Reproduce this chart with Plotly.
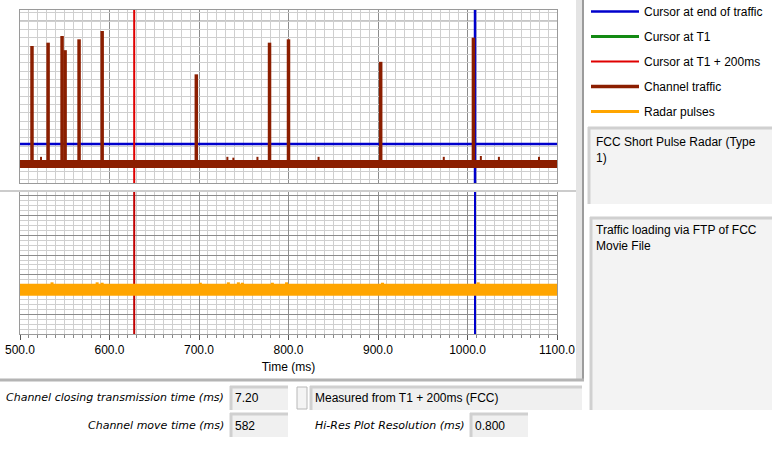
import plotly.graph_objects as go

# cursors (ms) and the horizontal level of the end-of-traffic cursor
t1 = 427.6
t1_plus_200 = 627.6
t_end = 1008.4
end_level = 4.25

# channel traffic: noise floor plus transmission bursts
traffic_floor = 1.84
burst_times = [513.4, 531.4, 547.0, 550.4, 566.0, 591.8, 697.0, 778.8, 800.0, 903.0, 1006.6]
burst_tops = [16.0, 16.4, 17.2, 15.5, 16.8, 17.8, 12.6, 16.4, 16.8, 14.1, 17.0]
noise_times = [523.5, 731.7, 738.4, 765.3, 833.6, 973.5, 1014.9, 1035.1, 1079.9]
noise_tops = [2.7, 2.7, 2.6, 2.7, 2.7, 2.7, 2.8, 2.7, 2.7]

# radar pulses (lower graph)
radar_floor = 2.24
radar_bump_times = [535.8, 586.2, 591.8, 701.5, 732.8, 744.0, 748.5, 782.0, 797.8, 905.0, 1012.0]
radar_bump_tops = [2.62, 2.62, 2.60, 2.60, 2.62, 2.62, 2.60, 2.60, 2.62, 2.60, 2.62]

x_range = [500, 1100]
top_range = [-0.44, 20.32]
bottom_range = [0, 7.2]

BLUE = "#0000cc"
GREEN = "#138a13"
RED = "#e00000"
BROWN = "#8b1e00"
ORANGE = "#ffa500"
FONT = "Liberation Sans"
IFONT = "DejaVu Sans"

W, H = 772, 449
PL, PR, PT, PB = 20, 557, 10, 334          # plot area in pixels
pw, ph = PR - PL, PB - PT


def px(x):
    return (x - PL) / pw


def py(y):
    return (PB - y) / ph


def spikes(times, tops, base):
    xs, ys = [], []
    for t, v in zip(times, tops):
        xs += [t, t, None]
        ys += [base, v, None]
    return xs, ys


fig = go.Figure()

# cursor at end of traffic (vertical on both graphs, horizontal on top)
fig.add_trace(go.Scatter(x=[t_end, t_end, None, x_range[0], x_range[1]],
                         y=[top_range[0], top_range[1], None, end_level, end_level],
                         mode="lines", line=dict(color=BLUE, width=2.5),
                         name="Cursor at end of traffic", legendgroup="a",
                         xaxis="x", yaxis="y"))
fig.add_trace(go.Scatter(x=[t_end, t_end], y=bottom_range, mode="lines",
                         line=dict(color=BLUE, width=2), showlegend=False,
                         legendgroup="a", xaxis="x2", yaxis="y2"))
# cursor at T1 (outside the shown window)
fig.add_trace(go.Scatter(x=[t1, t1], y=top_range, mode="lines",
                         line=dict(color=GREEN, width=3), name="Cursor at T1",
                         legendgroup="b", xaxis="x", yaxis="y"))
# cursor at T1 + 200ms
fig.add_trace(go.Scatter(x=[t1_plus_200, t1_plus_200], y=top_range, mode="lines",
                         line=dict(color=RED, width=2), name="Cursor at T1 + 200ms",
                         legendgroup="c", xaxis="x", yaxis="y"))
fig.add_trace(go.Scatter(x=[t1_plus_200, t1_plus_200], y=bottom_range, mode="lines",
                         line=dict(color="#c00000", width=2), showlegend=False,
                         legendgroup="c", xaxis="x2", yaxis="y2"))

# channel traffic
bx, by = spikes(burst_times, burst_tops, traffic_floor)
fig.add_trace(go.Scatter(x=bx, y=by, mode="lines", line=dict(color=BROWN, width=3.5),
                         name="Channel traffic", legendgroup="d",
                         xaxis="x", yaxis="y"))
fig.add_trace(go.Scatter(x=x_range, y=[traffic_floor, traffic_floor], mode="lines",
                         line=dict(color=BROWN, width=8), showlegend=False,
                         legendgroup="d", xaxis="x", yaxis="y"))
nx, ny = spikes(noise_times, noise_tops, traffic_floor)
fig.add_trace(go.Scatter(x=nx, y=ny, mode="lines", line=dict(color=BROWN, width=2),
                         showlegend=False, legendgroup="d", xaxis="x", yaxis="y"))

# radar pulses
rx, ry = spikes(radar_bump_times, radar_bump_tops, radar_floor)
fig.add_trace(go.Scatter(x=rx, y=ry, mode="lines", line=dict(color=ORANGE, width=3),
                         name="Radar pulses", legendgroup="e",
                         xaxis="x2", yaxis="y2"))
fig.add_trace(go.Scatter(x=x_range, y=[radar_floor, radar_floor], mode="lines",
                         line=dict(color=ORANGE, width=12), showlegend=False,
                         legendgroup="e", xaxis="x2", yaxis="y2"))

xgrid = dict(range=x_range, dtick=100, gridcolor="#8c8c8c", gridwidth=1,
             showline=True, linecolor="#9a9a9a", mirror=True, zeroline=False,
             minor=dict(dtick=10, showgrid=True, gridcolor="#cfcfcf"))

top_dom = [py(183), 1]
bot_dom = [0, py(192)]

fig.update_layout(
    width=W, height=H,
    margin=dict(l=PL, r=W - PR, t=PT, b=H - PB, autoexpand=False),
    paper_bgcolor="white", plot_bgcolor="white",
    font=dict(family=FONT, size=12, color="black"),
    xaxis=dict(xgrid, anchor="y", showticklabels=False),
    xaxis2=dict(xgrid, anchor="y2", matches="x", tickformat=".1f",
                ticks="outside", ticklen=5, tickcolor="#555555",
                tickfont=dict(size=12), ticklabeloverflow="allow",
                minor=dict(dtick=10, showgrid=True, gridcolor="#cfcfcf",
                           ticks="outside", ticklen=3, tickcolor="#888888"),
                title=dict(text="Time (ms)", font=dict(size=12), standoff=6)),
    yaxis=dict(domain=top_dom, range=top_range, dtick=1, tick0=0,
               gridcolor="#cfcfcf", showticklabels=False, zeroline=False,
               showline=True, linecolor="#9a9a9a", mirror=True),
    yaxis2=dict(domain=bot_dom, range=bottom_range, dtick=1, tick0=0,
                gridcolor="#8c8c8c", showticklabels=False, zeroline=False,
                showline=True, linecolor="#9a9a9a", mirror=True,
                minor=dict(dtick=0.25, showgrid=True, gridcolor="#cfcfcf")),
    showlegend=True,
    legend=dict(x=px(586), y=py(-3), xanchor="left", yanchor="top",
                xref="paper", yref="paper", traceorder="grouped",
                tracegroupgap=6, itemwidth=48, bgcolor="rgba(0,0,0,0)",
                font=dict(family=FONT, size=12)),
)

# darker horizontal rule near the top of the upper graph
fig.add_shape(type="line", xref="x", yref="y", x0=x_range[0], x1=x_range[1],
              y0=19, y1=19, line=dict(color="#8c8c8c", width=1), layer="below")


def rect(x0, y0, x1, y1, fill, line=None):
    fig.add_shape(type="rect", xref="paper", yref="paper",
                  x0=px(x0), x1=px(x1), y0=py(y0), y1=py(y1),
                  fillcolor=fill, line=dict(width=0) if line is None else line,
                  layer="above")


def hline(x0, x1, y, color, width=1):
    fig.add_shape(type="line", xref="paper", yref="paper",
                  x0=px(x0), x1=px(x1), y0=py(y), y1=py(y),
                  line=dict(color=color, width=width), layer="above")


def vline(x, y0, y1, color, width=1):
    fig.add_shape(type="line", xref="paper", yref="paper",
                  x0=px(x), x1=px(x), y0=py(y0), y1=py(y1),
                  line=dict(color=color, width=width), layer="above")


def text(x, y, s, anchor="left", italic=False):
    family, size = FONT, 12
    if italic:
        s = "<i>" + s + "</i>"
        family, size = IFONT, 11
    fig.add_annotation(xref="paper", yref="paper", x=px(x), y=py(y), text=s,
                       showarrow=False, xanchor=anchor, yanchor="middle",
                       align="left", font=dict(family=family, size=size, color="black"))


def inset_box(x0, y0, x1, y1, fill="#f3f3f3"):
    rect(x0, y0, x1, y1, fill)
    hline(x0, x1, y0 + 1, "#d0d0d0", 3)
    vline(x0 + 1, y0, y1, "#d0d0d0", 3)


# panel frames
hline(0, 578, 191, "#cccccc", 2)
rect(576, 0, 584, 381, "#e4e4e4")
vline(583, 0, 381, "#9c9c9c", 2)
hline(0, 584, 380, "#b4b4b4", 3)

# right-hand description boxes
inset_box(588, 127, 772, 204)
text(594, 150, "FCC Short Pulse Radar (Type<br>1)")
inset_box(590, 217, 772, 410)
text(594, 238, "Traffic loading via FTP of FCC<br>Movie File")

# controls under the graphs
text(226, 397, "Channel closing transmission time (ms)", "right", True)
inset_box(230, 386, 288, 410, "#f0f0f0")
text(233, 398, "7.20")
rect(297, 387, 307, 409, "#f4f4f4", dict(color="#b8b8b8", width=1))
inset_box(310, 386, 582, 410, "#f0f0f0")
text(313, 398, "Measured from T1 + 200ms (FCC)")

text(226, 425, "Channel move time (ms)", "right", True)
inset_box(230, 413, 288, 437, "#f0f0f0")
text(233, 426, "582")
text(467, 425, "Hi-Res Plot Resolution (ms)", "right", True)
inset_box(470, 413, 528, 437, "#f0f0f0")
text(473, 426, "0.800")

# the page has the browser's default 8px body margin; drop it so the
# figure sits in the window corner like the screenshot
fig.write_html("out.html", config={"displayModeBar": False},
               post_script="document.body.style.margin = '0';")
